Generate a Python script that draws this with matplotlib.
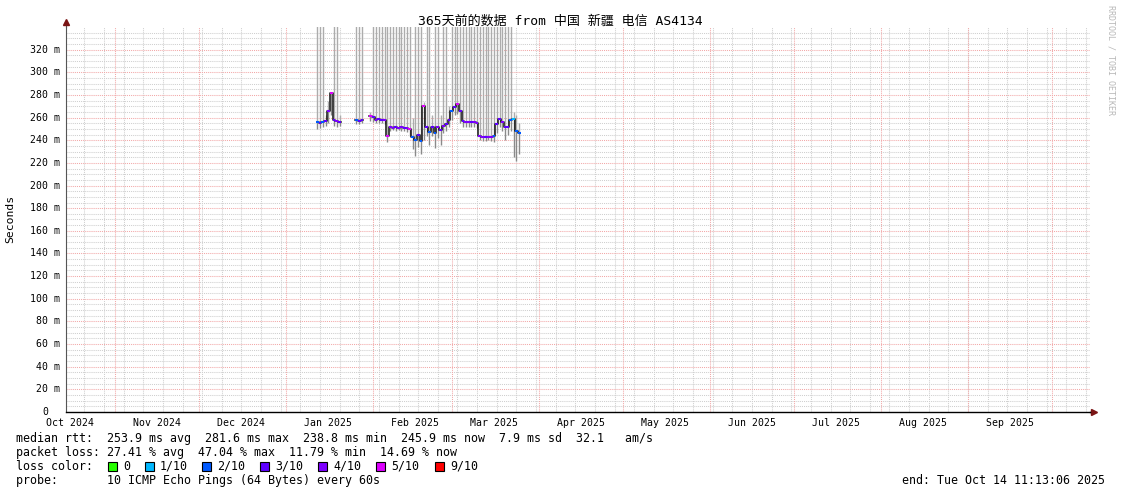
import numpy as np
import pandas as pd
import matplotlib
matplotlib.use("Agg")
import matplotlib.pyplot as plt
import matplotlib.dates as mdates
import matplotlib.transforms as mtransforms
from matplotlib.patches import Rectangle

plt.rcParams['font.family'] = ['DejaVu Sans Mono', 'Noto Sans CJK SC']

# ---------------- data ----------------
title = "365天前的数据 from 中国 新疆 电信 AS4134"
t_start = pd.Timestamp("2024-10-14 11:13:06")
t_end = pd.Timestamp("2025-10-14 11:13:06")

days = pd.date_range("2025-01-12", "2025-03-25", freq="D")
nan = np.nan
median_ms = [
    # Jan 12 - Jan 31
    256, 255.5, 256, 257, 266, 281.6, 258, 257, 256,
    nan, nan, nan, nan, nan,
    257.5, 257, 257.5, nan, nan, 261,
    # Feb 1 - Feb 28
    260.5, 258, 258.5, 257.5, 258, 244, 251.5, 251, 251.5, 251,
    251.5, 251, 250.5, 250, 243, 240, 245, 239, 270, 252,
    247, 252, 246, 252, 249, 253, 254, 258,
    # Mar 1 - Mar 25
    266, 269, 272, 266, 257, 256, 256, 256.5, 256, 255.5,
    244, 242.5, 242.5, 243, 243, 243.5, 254, 259, 256, 252,
    251.5, 257.5, 259, 248, 246,
]
smoke_lo = [
    250, 251, 252, 253, 255, 262, 253, 252, 253,
    nan, nan, nan, nan, nan,
    254, 254, 255, nan, nan, 257,
    256, 255, 255, 255, 254, 238, 248, 249, 248, 249,
    248, 248, 247, 244, 232, 226, 234, 228, 240, 244,
    236, 244, 233, 242, 236, 246, 248, 252,
    258, 262, 263, 255, 252, 252, 252, 252, 252, 251,
    240, 239, 239, 240, 239, 238, 246, 252, 248, 240,
    245, 248, 225, 222, 228,
]
smoke_hi = [
    400, 400, 400, 262, 275, 283, 400, 400, 262,
    nan, nan, nan, nan, nan,
    400, 400, 400, nan, nan, 265,
    400, 400, 400, 400, 400, 400, 400, 400, 400, 400,
    400, 400, 400, 400, 260, 400, 400, 400, 274, 400,
    400, 262, 400, 400, 262, 400, 400, 270,
    400, 400, 400, 400, 400, 400, 400, 400, 400, 400,
    400, 400, 400, 400, 400, 400, 400, 400, 400, 400,
    400, 400, 265, 262, 255,
]
loss_count = [
    2, 3, 2, 3, 4, 5, 3, 4, 3,
    0, 0, 0, 0, 0,
    2, 3, 3, 0, 0, 5,
    3, 4, 3, 3, 4, 5, 4, 4, 3, 4,
    4, 3, 4, 5, 2, 2, 3, 2, 5, 3,
    2, 3, 2, 4, 3, 4, 3, 3,
    2, 3, 5, 3, 3, 4, 4, 3, 4, 4,
    4, 4, 3, 4, 4, 2, 3, 3, 4, 3,
    3, 2, 1, 2, 2,
]
loss_levels = [0, 1, 2, 3, 4, 5, 9]
loss_labels = ["0", "1/10", "2/10", "3/10", "4/10", "5/10", "9/10"]
loss_colors = ["#26ff00", "#00b8ff", "#0059ff", "#5e00ff", "#7e00ff", "#dd00ff", "#ff0000"]

y_ticks = list(range(0, 321, 20))
month_labels = ["Oct 2024", "Nov 2024", "Dec 2024", "Jan 2025", "Feb 2025", "Mar 2025",
                "Apr 2025", "May 2025", "Jun 2025", "Jul 2025", "Aug 2025", "Sep 2025"]

legend_lines = [
    "median rtt:  253.9 ms avg  281.6 ms max  238.8 ms min  245.9 ms now  7.9 ms sd  32.1   am/s",
    "packet loss: 27.41 % avg  47.04 % max  11.79 % min  14.69 % now",
]
probe_line = "probe:       10 ICMP Echo Pings (64 Bytes) every 60s"
end_line = "end: Tue Oct 14 11:13:06 2025"

# ---------------- figure ----------------
W, H = 1121, 494
fig = plt.figure(figsize=(W / 100, H / 100), dpi=100)
fig.patch.set_facecolor("white")

def fx(x):
    return x / W

def fy(y):
    return 1 - y / H

ax = fig.add_axes([fx(66), fy(412), 1024 / W, 385 / H])
ax.set_facecolor("white")
ax.set_xlim(t_start, t_end)
ax.set_ylim(0, 340)

minor_col = "#cfcfcf"
major_col = "#f2a8a8"
dot = (0, (1, 1))
lw1 = 0.75

mondays = pd.date_range(t_start.normalize(), t_end, freq="W-MON")
for d in mondays:
    ax.axvline(d, color=minor_col, lw=lw1, ls=dot, zorder=0)
for v in np.arange(5, 340, 5):
    if v % 20:
        ax.axhline(v, color=minor_col, lw=lw1, ls=dot, zorder=0)
months = pd.date_range("2024-11-01", "2025-10-01", freq="MS")
for d in months:
    ax.axvline(d, color=major_col, lw=lw1, ls=dot, zorder=0.5)
for v in range(20, 340, 20):
    ax.axhline(v, color=major_col, lw=lw1, ls=dot, zorder=0.5)

# smoke + median
t = mdates.date2num(days)
med = np.array(median_ms, float)
lo = np.array(smoke_lo, float)
hi = np.array(smoke_hi, float)
ok = ~np.isnan(med)
ax.vlines(t[ok], med[ok], hi[ok], colors="#acacac", lw=1.0, zorder=2)
ax.vlines(t[ok], lo[ok], med[ok], colors="#8a8a8a", lw=1.0, zorder=3)
ax.step(t, med, where="mid", color="#111111", lw=1.1, zorder=4)
cmap = dict(zip(loss_levels, loss_colors))
ax.hlines(med[ok], t[ok] - 0.5, t[ok] + 0.5,
          colors=[cmap[l] for l, k in zip(loss_count, ok) if k], lw=1.5, zorder=5)

# axes frame
for s in ("top", "right"):
    ax.spines[s].set_visible(False)
ax.spines["bottom"].set_color("black")
ax.spines["bottom"].set_linewidth(1.0)
ax.spines["left"].set_color("#555555")
ax.spines["left"].set_linewidth(0.8)
ax.plot([1.0, 1.0 + 4 / 1024], [0, 0], transform=ax.transAxes, color="black",
        lw=1.0, clip_on=False)
ax.plot([1.0 + 4 / 1024], [0], transform=ax.transAxes, marker=">", ms=4,
        color="#7a1414", clip_on=False)
ax.plot([0, 0], [1.0, 1.0 + 4 / 385], transform=ax.transAxes, color="#555555",
        lw=0.8, clip_on=False)
ax.plot([0], [1.0 + 5 / 385], transform=ax.transAxes, marker="^", ms=4,
        color="#7a1414", clip_on=False)

# x labels at mid-month
mids = [pd.Timestamp(f"{d.year}-{d.month:02d}-16")
        for d in pd.date_range("2024-10-01", "2025-09-01", freq="MS")]
ax.set_xticks(mids)
ax.set_xticklabels(month_labels, fontsize=7.1)
ax.tick_params(axis="x", length=0, pad=4.5)
ax.set_yticks([])

# y labels
ytr = ax.get_yaxis_transform()
for v in y_ticks:
    if v == 0:
        ax.text(0, v, "0", transform=ytr + mtransforms.ScaledTranslation(-18 / 100, 0, fig.dpi_scale_trans),
                ha="right", va="center", fontsize=7.1)
    else:
        ax.text(0, v, f"{v} m", transform=ytr + mtransforms.ScaledTranslation(-6 / 100, 0, fig.dpi_scale_trans),
                ha="right", va="center", fontsize=7.1)

# title, y label, watermark
fig.text(fx(560.5), fy(21), title, ha="center", va="center", fontsize=9.4)
fig.text(fx(10), fy(219), "Seconds", ha="center", va="center", rotation=90, fontsize=8.2)
fig.text(fx(1111), fy(5), "RRDTOOL / TOBI OETIKER", ha="center", va="top", rotation=-90,
         fontsize=6.0, color="#b8b8b8")

# legend
fs = 8.35
fig.text(fx(16), fy(438), legend_lines[0], ha="left", va="center", fontsize=fs)
fig.text(fx(16), fy(452), legend_lines[1], ha="left", va="center", fontsize=fs)
fig.text(fx(16), fy(466), "loss color:", ha="left", va="center", fontsize=fs)
box_x = [108, 145, 202, 260, 318, 376, 435]
for bx, lab, col in zip(box_x, loss_labels, loss_colors):
    fig.add_artist(Rectangle((fx(bx), fy(470.5)), 9 / W, 9 / H, transform=fig.transFigure,
                             facecolor=col, edgecolor="black", lw=0.8))
    fig.text(fx(bx + 15), fy(466), lab, ha="left", va="center", fontsize=fs)
fig.text(fx(16), fy(480), probe_line, ha="left", va="center", fontsize=fs)
fig.text(fx(1105), fy(480), end_line, ha="right", va="center", fontsize=fs)

fig.savefig("out.png", dpi=100, facecolor="white")
